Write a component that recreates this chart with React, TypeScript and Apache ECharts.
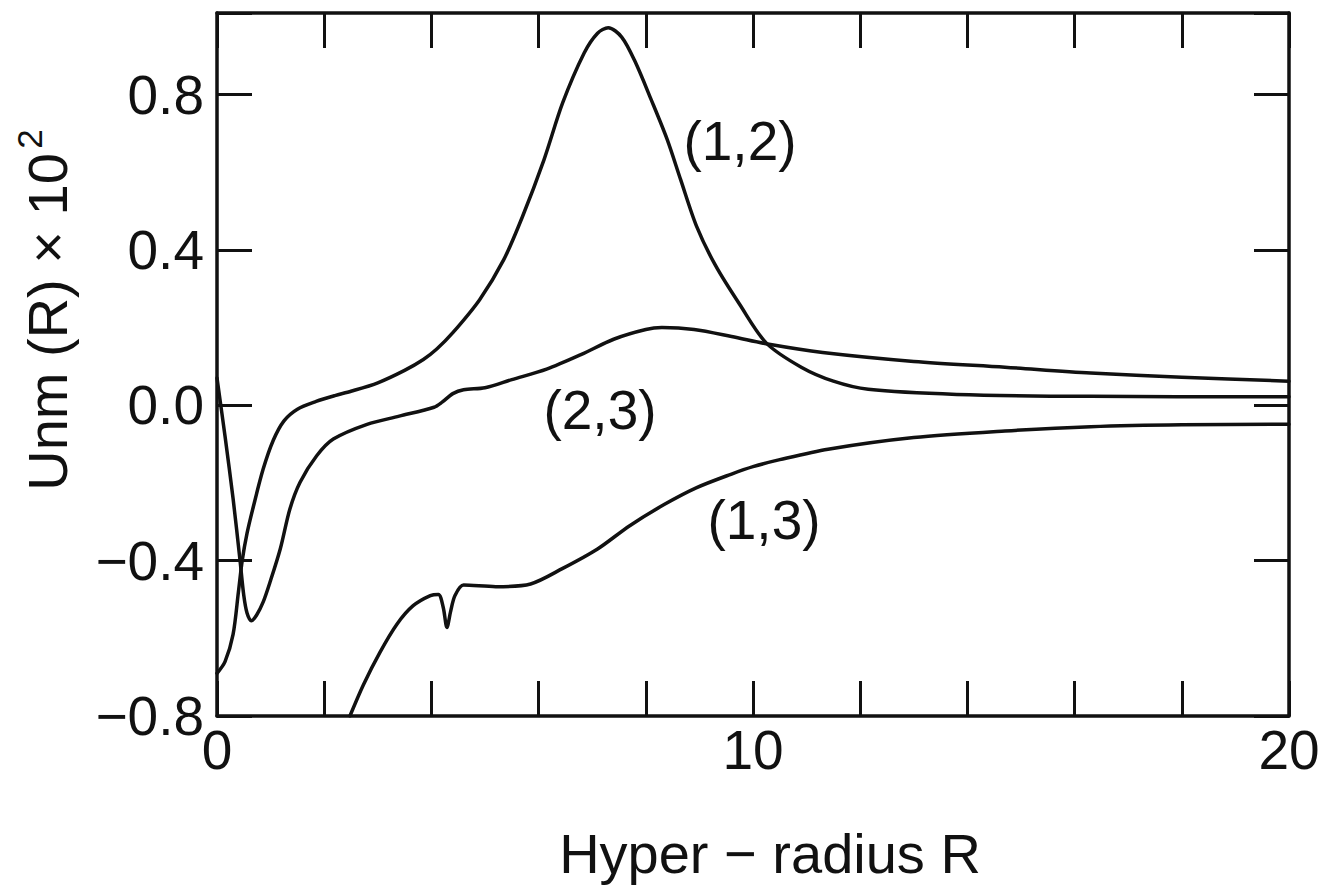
import React, { useEffect, useRef } from 'react';
import * as echarts from 'echarts';

const xLabelTicks = [0, 10, 20];
const yLabelTicks = [-0.8, -0.4, 0, 0.4, 0.8];

const curve12: [number, number][] = [
  [0.0, -0.69], [0.15, -0.66], [0.3, -0.59], [0.4, -0.48], [0.47, -0.4], [0.56, -0.33],
  [0.68, -0.26], [0.86, -0.165], [1.05, -0.09], [1.25, -0.04], [1.5, -0.01], [1.85, 0.01],
  [2.2, 0.025], [2.5, 0.036], [3.0, 0.058], [3.5, 0.09], [3.85, 0.118], [4.1, 0.145],
  [4.4, 0.187], [4.9, 0.272], [5.35, 0.375], [5.7, 0.486], [6.1, 0.632], [6.45, 0.779],
  [6.85, 0.907], [7.1, 0.958], [7.3, 0.972], [7.55, 0.948], [7.8, 0.885], [8.1, 0.787],
  [8.4, 0.684], [8.65, 0.581], [8.95, 0.46], [9.3, 0.36], [9.75, 0.26], [10.25, 0.16],
  [10.9, 0.098], [11.5, 0.062], [12.15, 0.041], [13.8, 0.028], [16.3, 0.023], [20, 0.022],
];

const curve23: [number, number][] = [
  [0.0, 0.07], [0.15, -0.08], [0.3, -0.24], [0.43, -0.4], [0.5, -0.49], [0.56, -0.535],
  [0.64, -0.555], [0.74, -0.54], [0.86, -0.507], [0.99, -0.455], [1.18, -0.37], [1.36, -0.267],
  [1.55, -0.198], [1.86, -0.13], [2.17, -0.087], [2.8, -0.049], [3.4, -0.028], [4.05, -0.005],
  [4.2, 0.008], [4.4, 0.03], [4.6, 0.04], [5.0, 0.045], [5.5, 0.066], [6.15, 0.093],
  [6.8, 0.131], [7.4, 0.17], [8.0, 0.195], [8.3, 0.2], [8.9, 0.195], [9.6, 0.177],
  [10.3, 0.157], [11.3, 0.136], [13.0, 0.113], [14.7, 0.098], [16.3, 0.083], [18.0, 0.072],
  [20.0, 0.062],
];

const curve13: [number, number][] = [
  [2.48, -0.8], [2.73, -0.72], [3.04, -0.636], [3.36, -0.563], [3.66, -0.516], [3.98, -0.49],
  [4.13, -0.487], [4.22, -0.52], [4.29, -0.572], [4.36, -0.53], [4.44, -0.49], [4.6, -0.463],
  [5.2, -0.467], [5.85, -0.46], [6.45, -0.42], [7.1, -0.37], [7.7, -0.31], [8.35, -0.255],
  [8.95, -0.212], [9.6, -0.177], [10.0, -0.158], [10.5, -0.14], [11.4, -0.113], [13.0, -0.083],
  [14.7, -0.066], [16.3, -0.055], [18.0, -0.05], [20.0, -0.049],
];

const curveLabels = [
  { text: '(1,2)', x: 740, y: 141 },
  { text: '(2,3)', x: 600, y: 410 },
  { text: '(1,3)', x: 764, y: 520 },
];

const FONT = 'Liberation Sans';
const INK = '#111';

export default function App() {
  const ref = useRef<HTMLDivElement>(null);
  useEffect(() => {
    const chart = echarts.init(ref.current!, null, { renderer: 'svg' });
    const tickCommon = {
      show: true,
      inside: true,
      length: 35,
      lineStyle: { color: INK, width: 3 },
    };
    const lineCommon = {
      show: true,
      onZero: false,
      lineStyle: { color: INK, width: 3.5 },
    };
    const xBase = {
      type: 'value' as const,
      min: 0,
      max: 20,
      interval: 2,
      splitLine: { show: false },
      axisLine: lineCommon,
      axisTick: tickCommon,
    };
    const yBase = {
      type: 'value' as const,
      min: -0.8,
      max: 1.01,
      interval: 0.4,
      splitLine: { show: false },
      axisLine: lineCommon,
      axisTick: tickCommon,
    };
    const seriesStyle = (data: [number, number][]) => ({
      type: 'line' as const,
      data,
      showSymbol: false,
      symbol: 'none',
      smooth: 0.3,
      lineStyle: { color: INK, width: 3.5, join: 'round', cap: 'round' },
      clip: true,
    });
    chart.setOption({
      animation: false,
      backgroundColor: '#fff',
      grid: { left: 217, right: 38, top: 13, bottom: 176 },
      xAxis: [
        {
          ...xBase,
          position: 'bottom',
          axisLabel: {
            show: true,
            margin: 6,
            fontFamily: FONT,
            fontSize: 55,
            color: INK,
            formatter: (v: number) =>
              xLabelTicks.some((t) => Math.abs(t - v) < 1e-6) ? String(Math.round(v)) : '',
          },
        },
        { ...xBase, position: 'top', axisLabel: { show: false } },
      ],
      yAxis: [
        {
          ...yBase,
          position: 'left',
          axisLabel: {
            show: true,
            margin: 13,
            fontFamily: FONT,
            fontSize: 55,
            color: INK,
            formatter: (v: number) =>
              yLabelTicks.some((t) => Math.abs(t - v) < 1e-6)
                ? v.toFixed(1).replace('-', '\u2212')
                : '',
          },
        },
        { ...yBase, position: 'right', axisLabel: { show: false } },
      ],
      series: [seriesStyle(curve12), seriesStyle(curve23), seriesStyle(curve13)],
      graphic: [
        {
          type: 'text',
          x: 47,
          y: 322,
          rotation: Math.PI / 2,
          style: {
            text: 'Unm (R) \u00d7 10',
            fontFamily: FONT,
            fontSize: 56,
            fill: INK,
            textAlign: 'center',
            textVerticalAlign: 'middle',
          },
        },
        {
          type: 'text',
          x: 29,
          y: 139,
          rotation: Math.PI / 2,
          style: {
            text: '2',
            fontFamily: FONT,
            fontSize: 35,
            fill: INK,
            textAlign: 'center',
            textVerticalAlign: 'middle',
          },
        },
        {
          type: 'text',
          x: 770,
          y: 853,
          style: {
            text: 'Hyper \u2212 radius R',
            fontFamily: FONT,
            fontSize: 56,
            fill: INK,
            textAlign: 'center',
            textVerticalAlign: 'middle',
          },
        },
        ...curveLabels.map((l) => ({
          type: 'text',
          x: l.x,
          y: l.y,
          style: {
            text: l.text,
            fontFamily: FONT,
            fontSize: 55,
            fill: INK,
            textAlign: 'center',
            textVerticalAlign: 'middle',
          },
        })),
      ],
    });
    return () => chart.dispose();
  }, []);
  return (
    <div
      ref={ref}
      style={{ position: 'fixed', left: 0, top: 0, width: 1327, height: 892, background: '#fff' }}
    />
  );
}
